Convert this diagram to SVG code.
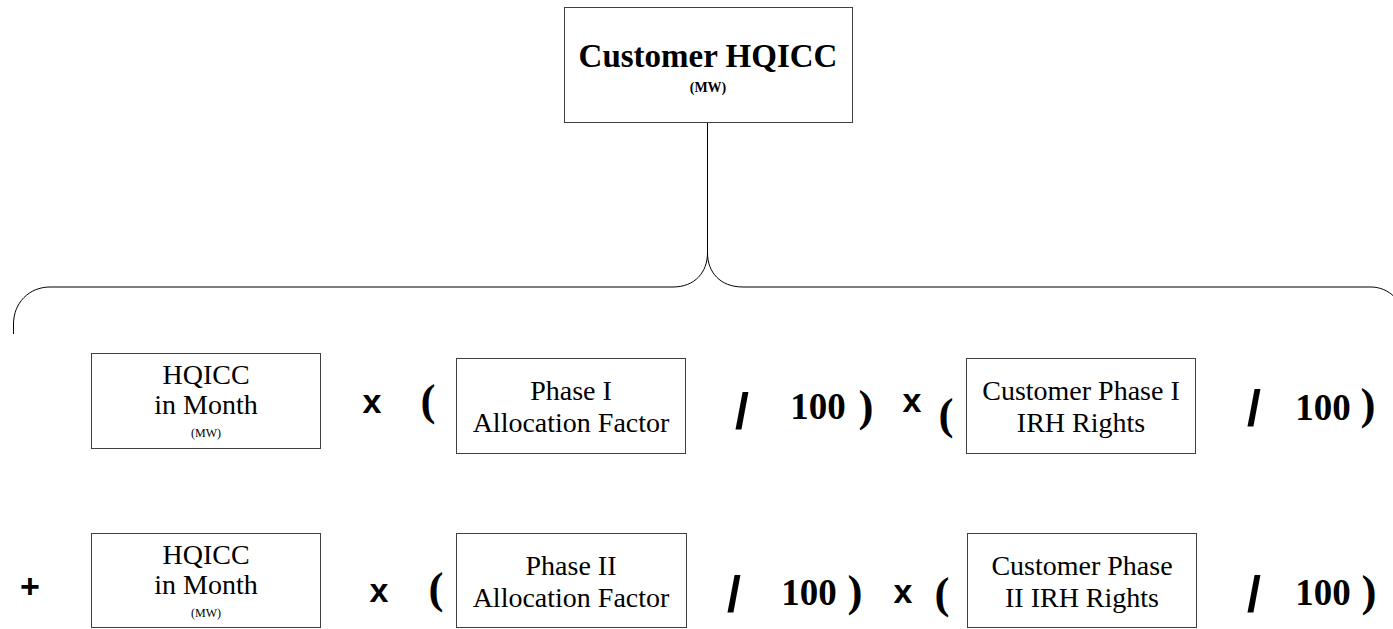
<svg xmlns="http://www.w3.org/2000/svg" width="1393" height="629" viewBox="0 0 1393 629">
<style>
.box{fill:#fff;stroke:#404040;stroke-width:1}
.lbl{font-family:"Liberation Serif",serif;font-size:28px;fill:#000;text-anchor:middle}
.small{font-family:"Liberation Serif",serif;font-size:12px;fill:#000;text-anchor:middle}
.title{font-family:"Liberation Serif",serif;font-size:33px;font-weight:bold;fill:#000;text-anchor:middle}
.titlesub{font-family:"Liberation Serif",serif;font-size:14px;font-weight:bold;fill:#000;text-anchor:middle}
.op{font-family:"Liberation Sans",Arial,sans-serif;font-weight:bold;fill:#000;text-anchor:middle}
.x{font-size:34px}
.sl{font-size:50px}
.num{font-family:"Liberation Serif",serif;font-weight:bold;font-size:37px;fill:#000;text-anchor:middle}
.par{font-family:"Liberation Serif",serif;font-weight:bold;font-size:45px;fill:#000;text-anchor:middle}
.conn{fill:none;stroke:#000;stroke-width:1}
</style>
<rect width="1393" height="629" fill="#fff"/>
<g id="connectors">
<line class="conn" x1="707.5" y1="123" x2="707.5" y2="253"/>
<path class="conn" d="M13.5 334 L13.5 324 C13.5 303 29 287 50 287 L673 287 C695 287 707.5 272 707.5 253 C707.5 272 720 287 743 287 L1371 287 C1389 287 1404 302 1404 320 L1404 334"/>
</g>
<g id="node-customer-hqicc">
<rect class="box" x="564.5" y="7.5" width="288" height="115"/>
<text class="title" x="708" y="67">Customer HQICC</text>
<text class="titlesub" x="708" y="92">(MW)</text>
</g>
<g id="node-hqicc-month-1">
<rect class="box" x="91.5" y="353.5" width="229" height="95"/>
<text class="lbl" x="206" y="384">HQICC</text>
<text class="lbl" x="206" y="414">in Month</text>
<text class="small" x="206" y="437">(MW)</text>
</g>
<g id="node-phase1-alloc">
<rect class="box" x="456.5" y="358.5" width="229" height="95"/>
<text class="lbl" x="571" y="400">Phase I</text>
<text class="lbl" x="571" y="432">Allocation Factor</text>
</g>
<g id="node-phase1-irh">
<rect class="box" x="966.5" y="358.5" width="229" height="95"/>
<text class="lbl" x="1081" y="400">Customer Phase I</text>
<text class="lbl" x="1081" y="432">IRH Rights</text>
</g>
<g id="node-hqicc-month-2">
<rect class="box" x="91.5" y="533.5" width="229" height="94"/>
<text class="lbl" x="206" y="564">HQICC</text>
<text class="lbl" x="206" y="594">in Month</text>
<text class="small" x="206" y="617">(MW)</text>
</g>
<g id="node-phase2-alloc">
<rect class="box" x="456.5" y="533.5" width="230" height="94"/>
<text class="lbl" x="571" y="575">Phase II</text>
<text class="lbl" x="571" y="607">Allocation Factor</text>
</g>
<g id="node-phase2-irh">
<rect class="box" x="967.5" y="533.5" width="229" height="94"/>
<text class="lbl" x="1082" y="575">Customer Phase</text>
<text class="lbl" x="1082" y="607">II IRH Rights</text>
</g>
<g id="operators">
<text class="op x" x="372" y="413">x</text>
<text class="par" x="428" y="415">(</text>
<text class="op sl" x="742" y="428">/</text>
<text class="num" x="818" y="419">100</text>
<text class="par" x="866" y="421">)</text>
<text class="op x" x="912" y="412">x</text>
<text class="par" x="946" y="429">(</text>
<text class="op sl" x="1254" y="425">/</text>
<text class="num" x="1323" y="420">100</text>
<text class="par" x="1368" y="419">)</text>
<text class="op x" x="30" y="598">+</text>
<text class="op x" x="379" y="602">x</text>
<text class="par" x="436" y="603">(</text>
<text class="op sl" x="734" y="611">/</text>
<text class="num" x="809" y="605">100</text>
<text class="par" x="855" y="606">)</text>
<text class="op x" x="903" y="603">x</text>
<text class="par" x="942" y="608">(</text>
<text class="op sl" x="1254" y="611">/</text>
<text class="num" x="1323" y="605">100</text>
<text class="par" x="1369" y="606">)</text>
</g>
</svg>
